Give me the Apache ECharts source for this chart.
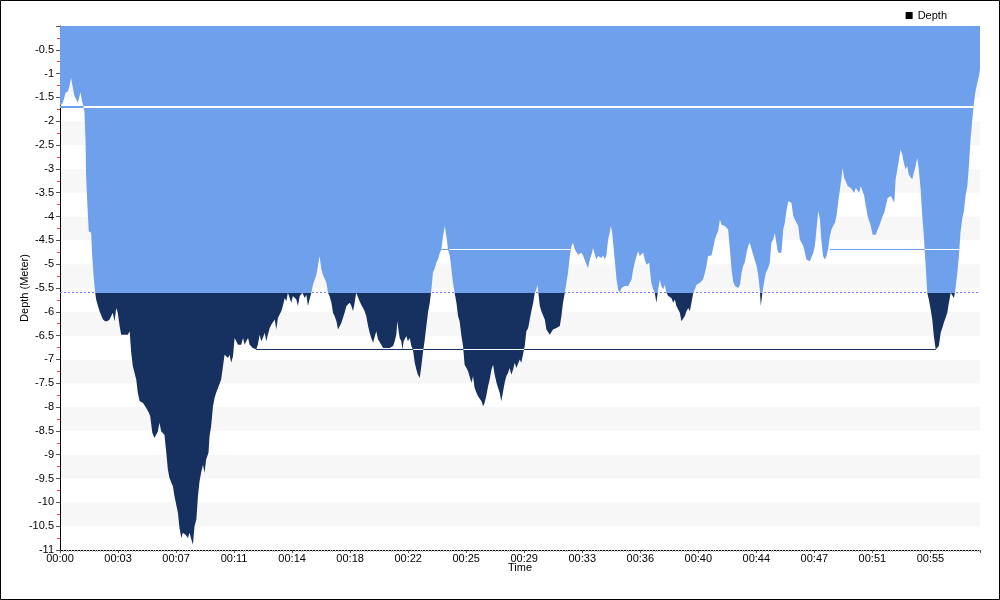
<!DOCTYPE html>
<html><head><meta charset="utf-8">
<script src="https://cdn.jsdelivr.net/npm/echarts@6/dist/echarts.min.js"></script>
<style>html,body{margin:0;padding:0;background:#fff}#c{width:1000px;height:600px}</style>
</head><body><div id="c"></div>
<script>
// Dive profile: [time in seconds, depth in meters]
const depthProfile = [
[0,-1.68],[11,-1.61],[21,-1.40],[30,-1.37],[36,-1.26],[42,-1.09],[49,-1.30],[55,-1.47],[61,-1.54],[68,-1.61],
[74,-1.47],[78,-1.39],[83,-1.58],[89,-1.68],[93,-1.82],[97,-2.45],[99,-3.15],[104,-3.78],[109,-4.31],[118,-4.34],
[122,-4.83],[127,-5.22],[132,-5.53],[137,-5.74],[144,-5.88],[150,-5.99],[156,-6.02],[163,-6.16],[171,-6.20],[179,-6.20],
[188,-6.16],[200,-6.02],[207,-6.20],[213,-5.92],[219,-6.02],[226,-6.30],[232,-6.48],[245,-6.48],[257,-6.48],[264,-6.41],
[270,-6.86],[276,-7.14],[289,-7.42],[295,-7.70],[302,-7.88],[314,-7.91],[327,-8.02],[337,-8.12],[342,-8.19],[350,-8.54],
[358,-8.65],[365,-8.68],[371,-8.51],[377,-8.33],[384,-8.51],[396,-8.58],[403,-8.96],[409,-9.31],[415,-9.49],[428,-9.66],
[434,-9.87],[441,-9.91],[447,-10.22],[453,-10.54],[460,-10.75],[466,-10.64],[476,-10.68],[485,-10.75],[491,-10.64],[498,-10.78],
[504,-10.89],[510,-10.50],[517,-10.36],[523,-9.87],[529,-9.56],[535,-9.38],[542,-9.21],[548,-9.38],[554,-9.10],[563,-8.96],
[567,-8.61],[573,-8.40],[580,-7.98],[586,-7.81],[592,-7.70],[599,-7.60],[611,-7.42],[618,-7.14],[624,-6.90],[630,-6.86],
[637,-6.97],[643,-6.90],[649,-7.07],[656,-6.93],[662,-6.55],[668,-6.58],[675,-6.69],[681,-6.65],[687,-6.69],[694,-6.55],
[700,-6.69],[706,-6.62],[713,-6.55],[719,-6.69],[725,-6.72],[731,-6.76],[738,-6.78],[744,-6.79],[750,-6.69],[757,-6.48],
[763,-6.62],[769,-6.55],[776,-6.44],[782,-6.62],[788,-6.48],[795,-6.34],[801,-6.27],[807,-6.30],[814,-6.16],[820,-6.37],
[826,-6.13],[833,-6.16],[839,-5.99],[845,-5.88],[852,-5.71],[858,-5.78],[864,-5.60],
[877,-5.81],[883,-5.67],[896,-5.74],[902,-5.88],[909,-5.67],[919,-5.60],[928,-5.71],[934,-5.64],[940,-5.88],[946,-5.74],
[953,-5.60],[959,-5.43],[965,-5.39],[972,-5.22],[978,-5.04],[984,-4.83],[991,-5.11],[997,-5.22],[1003,-5.25],[1010,-5.39],
[1016,-5.60],[1022,-5.67],[1029,-5.81],[1035,-6.02],[1041,-6.09],[1048,-6.20],[1054,-6.37],[1060,-6.34],[1067,-6.23],[1073,-6.20],
[1079,-6.02],[1086,-5.88],[1092,-5.85],[1098,-5.81],[1105,-5.88],[1111,-5.99],[1117,-5.81],[1123,-5.60],[1130,-5.64],[1136,-5.78],
[1142,-5.85],[1149,-5.92],[1155,-5.99],[1161,-6.09],[1168,-6.30],[1174,-6.44],[1180,-6.55],[1187,-6.65],[1193,-6.69],[1199,-6.41],
[1206,-6.58],[1212,-6.62],[1218,-6.69],[1225,-6.76],[1231,-6.79],[1237,-6.76],[1244,-6.78],[1250,-6.76],[1256,-6.79],[1263,-6.72],
[1269,-6.62],[1275,-6.48],[1279,-6.20],[1284,-6.41],[1288,-6.55],[1294,-6.62],[1298,-6.79],[1303,-6.62],[1307,-6.58],[1313,-6.51],
[1319,-6.62],[1326,-6.55],[1332,-6.72],[1338,-6.79],[1345,-7.07],[1351,-7.21],[1357,-7.32],[1364,-7.39],[1370,-7.14],[1376,-6.86],
[1383,-6.58],[1389,-6.30],[1395,-6.02],[1402,-5.81],[1408,-5.53],[1414,-5.18],[1421,-5.08],[1427,-4.97],[1433,-4.90],[1440,-4.76],
[1446,-4.69],[1452,-4.41],[1459,-4.20],[1465,-4.41],[1471,-4.69],[1478,-4.83],[1484,-5.11],[1490,-5.39],[1496,-5.60],[1503,-5.81],
[1509,-6.09],[1515,-6.20],[1522,-6.51],[1528,-6.72],[1534,-7.11],[1541,-7.18],[1547,-7.25],[1553,-7.21],[1560,-7.49],[1566,-7.35],
[1572,-7.60],[1579,-7.70],[1585,-7.77],[1591,-7.81],[1598,-7.88],[1604,-7.98],[1610,-7.91],[1617,-7.74],[1623,-7.56],[1629,-7.42],
[1636,-7.21],[1642,-7.11],[1648,-7.32],[1655,-7.49],[1661,-7.60],[1667,-7.70],[1673,-7.88],[1680,-7.67],[1686,-7.49],[1692,-7.35],
[1699,-7.28],[1705,-7.18],[1711,-7.32],[1718,-7.21],[1724,-7.07],[1730,-7.18],[1737,-7.14],[1743,-7.00],
[1749,-7.07],[1756,-7.07],[1762,-6.72],[1768,-6.41],[1775,-6.34],[1781,-6.16],[1787,-5.99],[1794,-5.81],[1800,-5.60],[1806,-5.53],
[1810,-5.43],[1815,-5.67],[1819,-5.88],[1825,-5.99],[1832,-6.02],[1838,-6.16],[1844,-6.37],[1850,-6.41],[1857,-6.48],[1863,-6.44],
[1869,-6.37],[1882,-6.34],[1888,-6.34],[1895,-6.30],[1901,-6.09],[1907,-5.81],[1914,-5.60],[1920,-5.39],[1926,-5.18],[1933,-4.83],
[1939,-4.62],[1945,-4.55],[1952,-4.69],[1958,-4.73],[1964,-4.80],[1971,-4.80],[1977,-4.76],[1983,-4.82],[1990,-4.83],[1996,-5.01],
[2002,-5.08],[2009,-4.90],[2015,-4.80],[2021,-4.66],[2028,-4.80],[2034,-4.90],[2040,-4.83],[2046,-4.87],[2053,-4.87],[2059,-4.82],
[2065,-4.90],[2072,-4.80],[2078,-4.48],[2084,-4.34],[2088,-4.20],[2093,-4.31],[2097,-4.55],[2103,-4.90],[2110,-5.32],[2116,-5.53],
[2122,-5.60],[2129,-5.50],[2135,-5.53],[2141,-5.46],[2148,-5.50],[2154,-5.46],[2160,-5.43],[2167,-5.32],[2173,-5.11],[2179,-4.97],
[2186,-4.83],[2192,-4.73],[2198,-4.83],[2205,-4.80],[2211,-4.76],[2217,-4.90],[2223,-5.01],[2230,-5.04],[2234,-4.97],[2239,-5.25],
[2242,-5.39],[2249,-5.53],[2255,-5.60],[2261,-5.81],[2268,-5.53],[2274,-5.32],[2280,-5.46],[2287,-5.53],[2293,-5.43],[2299,-5.60],
[2306,-5.67],[2312,-5.64],[2318,-5.71],[2325,-5.81],[2331,-5.74],[2337,-5.88],[2344,-5.92],[2350,-6.02],[2356,-6.20],[2363,-6.20],
[2369,-6.09],[2375,-5.99],[2382,-5.92],[2388,-5.99],[2394,-5.81],[2401,-5.60],[2407,-5.53],[2413,-5.43],[2426,-5.39],[2432,-5.39],
[2438,-5.32],[2445,-5.18],[2451,-5.04],[2457,-4.83],[2464,-4.82],[2470,-4.82],[2476,-4.80],[2483,-4.48],[2489,-4.38],[2495,-4.31],
[2502,-4.06],[2508,-4.17],[2514,-4.20],[2521,-4.20],[2527,-4.24],[2533,-4.27],[2540,-4.69],[2546,-5.11],[2552,-5.36],[2559,-5.46],
[2565,-5.50],[2571,-5.50],[2578,-5.43],[2584,-5.18],[2590,-5.04],[2596,-4.97],[2603,-4.76],[2609,-4.62],[2615,-4.55],
[2622,-4.55],[2628,-4.80],[2634,-4.83],[2641,-5.04],[2647,-5.22],[2653,-5.53],[2657,-5.88],[2663,-5.60],[2670,-5.36],[2676,-5.18],
[2685,-5.08],[2691,-4.97],[2697,-4.55],[2704,-4.48],[2710,-4.34],[2714,-4.48],[2719,-4.66],[2723,-4.76],[2729,-4.80],[2735,-4.76],
[2742,-4.27],[2748,-4.13],[2754,-3.89],[2761,-3.68],[2767,-3.64],[2773,-3.71],[2780,-3.99],[2786,-4.06],[2792,-4.06],[2799,-4.20],
[2805,-4.48],[2811,-4.52],[2818,-4.62],[2824,-4.76],[2830,-4.90],[2837,-4.90],[2843,-4.94],[2849,-4.97],[2856,-4.76],[2862,-4.62],
[2868,-4.27],[2875,-3.89],[2881,-4.06],[2887,-4.52],[2893,-4.83],[2900,-4.90],[2906,-4.83],[2912,-4.69],[2919,-4.41],[2925,-4.27],
[2931,-4.20],[2938,-4.13],[2944,-3.99],[2950,-3.71],[2957,-3.43],[2963,-3.19],[2967,-2.98],[2973,-3.19],[2979,-3.26],[2986,-3.36],
[2992,-3.36],[2998,-3.40],[3005,-3.43],[3011,-3.50],[3017,-3.40],[3024,-3.43],[3030,-3.50],[3036,-3.36],[3043,-3.40],[3049,-3.57],
[3055,-3.78],[3062,-3.99],[3068,-4.10],[3074,-4.20],[3081,-4.38],[3087,-4.41],[3093,-4.38],[3100,-4.27],[3106,-4.20],[3112,-4.17],
[3119,-3.99],[3125,-3.92],[3131,-3.78],[3138,-3.61],[3144,-3.61],[3150,-3.57],[3157,-3.61],[3163,-3.71],[3168,-3.22],[3174,-3.19],
[3181,-2.80],[3187,-2.59],[3193,-2.70],[3199,-2.87],[3206,-3.01],[3212,-2.94],[3218,-3.12],[3225,-3.08],[3231,-3.22],[3237,-3.08],
[3244,-2.94],[3250,-2.77],[3256,-3.01],[3263,-3.43],[3269,-3.99],[3275,-4.41],[3282,-5.04],[3288,-5.60],[3294,-5.74],[3301,-5.95],
[3307,-6.16],[3313,-6.51],[3320,-6.79],[3326,-6.83],[3332,-6.72],[3339,-6.44],[3345,-6.34],[3351,-6.23],[3357,-6.20],[3364,-6.02],
[3370,-5.81],[3377,-5.60],[3383,-5.60],[3389,-5.71],[3395,-5.53],[3402,-5.18],[3408,-4.83],[3414,-4.34],[3421,-4.03],[3427,-3.89],
[3433,-3.57],[3440,-3.36],[3446,-2.94],[3452,-2.38],[3459,-1.96],[3465,-1.61],[3471,-1.37],[3478,-1.19],[3484,-1.05],[3488,-0.91]
];

// Threshold depth splitting the fill colours
const thresholdDepth = -5.6;

// Reference level segments (depth, start second, end second, inside filled area? 1/0)
const refLevel  = [-1.7, -1.7, -4.7, -4.7, -4.7, -4.7, -6.8, -6.8, -6.8, -6.8, -6.8];
const refFrom   = [0,    90,   1446, 1476, 2919, 3279, 744,  1339, 1378, 1530, 1760];
const refTo     = [90,   3463, 1476, 1935, 3279, 3410, 1339, 1378, 1530, 1760, 3320];
const refInside = [0,    1,    0,    1,    0,    1,    0,    1,    0,    1,    0];

// Axes
const timeMax = 3488;     // seconds
const timeStep = 220;     // seconds between tick labels
const depthMin = -11, depthMax = 0, depthStep = 0.5;

const LIGHT = '#6fa0ec', DARK = '#16305f';
const FONT = 'Liberation Sans';

// Fill: area spans from depthMax (top) down to the deepest point; split colour at threshold
const deepest = Math.min.apply(null, depthProfile.map(p => p[1]));
const splitOffset = (depthMax - thresholdDepth) / (depthMax - deepest);
const areaFill = new echarts.graphic.LinearGradient(0, 0, 0, 1, [
  {offset: 0, color: LIGHT}, {offset: splitOffset, color: LIGHT},
  {offset: splitOffset, color: DARK}, {offset: 1, color: DARK}
]);

const refRows = refLevel.map((lv, i) => [refFrom[i], refTo[i], lv, refInside[i]]);

function crispY(y, w) { return w % 2 === 1 ? Math.round(y - 0.5) + 0.5 : Math.round(y); }

const chart = echarts.init(document.getElementById('c'), null, {renderer: 'canvas'});
chart.setOption({
  animation: false,
  backgroundColor: '#fff',
  textStyle: {fontFamily: FONT},
  grid: {left: 60, right: 20, top: 26, bottom: 50, containLabel: false},
  legend: {
    right: 48, top: 5, itemWidth: 7, itemHeight: 7, itemGap: 4,
    textStyle: {fontSize: 11, color: '#000', fontFamily: FONT},
    data: [{name: 'Depth', icon: 'rect', itemStyle: {color: '#000'}}]
  },
  xAxis: {
    type: 'value', min: 0, max: timeMax, interval: timeStep,
    name: 'Time', nameLocation: 'middle', nameGap: 12, nameMoveOverlap: false,
    nameTextStyle: {fontSize: 11, color: '#000', fontFamily: FONT},
    axisLine: {show: true, onZero: false, lineStyle: {color: '#000', width: 1}},
    axisTick: {show: true, length: 3, lineStyle: {color: '#555'}},
    minorTick: {show: true, splitNumber: 20, length: 2, lineStyle: {color: '#bbb'}},
    axisLabel: {
      fontSize: 11, color: '#000', margin: 3, showMaxLabel: false, fontFamily: FONT,
      formatter: v => '00:' + String(Math.floor(v / 60)).padStart(2, '0')
    },
    splitLine: {show: false}
  },
  yAxis: {
    type: 'value', min: depthMin, max: depthMax, interval: depthStep,
    name: 'Depth (Meter)', nameLocation: 'middle', nameGap: 30, nameMoveOverlap: false,
    nameTextStyle: {fontSize: 11, color: '#000', fontFamily: FONT},
    axisLine: {show: true, onZero: false, lineStyle: {color: '#000', width: 1}},
    axisTick: {show: true, length: 4, lineStyle: {color: '#555'}},
    minorTick: {show: true, splitNumber: 2, length: 3, lineStyle: {color: '#e04040'}},
    axisLabel: {fontSize: 11, color: '#000', margin: 6, showMaxLabel: false, fontFamily: FONT},
    splitLine: {show: false},
    splitArea: {show: true, areaStyle: {color: ['#ffffff', '#f7f7f7']}}
  },
  series: [
    {
      name: 'Depth', type: 'line', data: depthProfile,
      symbol: 'none', showSymbol: false, silent: true, z: 3,
      itemStyle: {color: '#000'},
      lineStyle: {width: 0},
      areaStyle: {origin: 'end', opacity: 1, color: areaFill}
    },
    {
      // dashed threshold line (behind the area)
      type: 'custom', silent: true, z: 1,
      data: [[0, timeMax, thresholdDepth]],
      encode: {x: [0, 1], y: 2},
      renderItem: function (params, api) {
        const a = api.coord([api.value(0), api.value(2)]);
        const b = api.coord([api.value(1), api.value(2)]);
        const y = crispY(a[1], 1);
        return {type: 'line', shape: {x1: a[0], y1: y, x2: b[0], y2: y},
          style: {stroke: '#7b7bf0', lineWidth: 1, lineDash: [2, 2]}};
      }
    },
    {
      // reference level lines (over the area)
      type: 'custom', silent: true, z: 4,
      data: refRows,
      encode: {x: [0, 1], y: 2},
      renderItem: function (params, api) {
        const lv = api.value(2);
        const a = api.coord([api.value(0), lv]);
        const b = api.coord([api.value(1), lv]);
        const w = lv === -1.7 ? 2 : 1;
        const y = crispY(a[1], w);
        const color = api.value(3) ? '#ffffff' : (lv < thresholdDepth ? DARK : LIGHT);
        return {type: 'line', shape: {x1: a[0], y1: y, x2: b[0], y2: y},
          style: {stroke: color, lineWidth: w}};
      }
    }
  ],
  graphic: [{
    type: 'rect', silent: true, z: 100,
    shape: {x: 0.5, y: 0.5, width: 999, height: 599},
    style: {fill: 'none', stroke: '#000', lineWidth: 1}
  }]
});
</script>
</body></html>
